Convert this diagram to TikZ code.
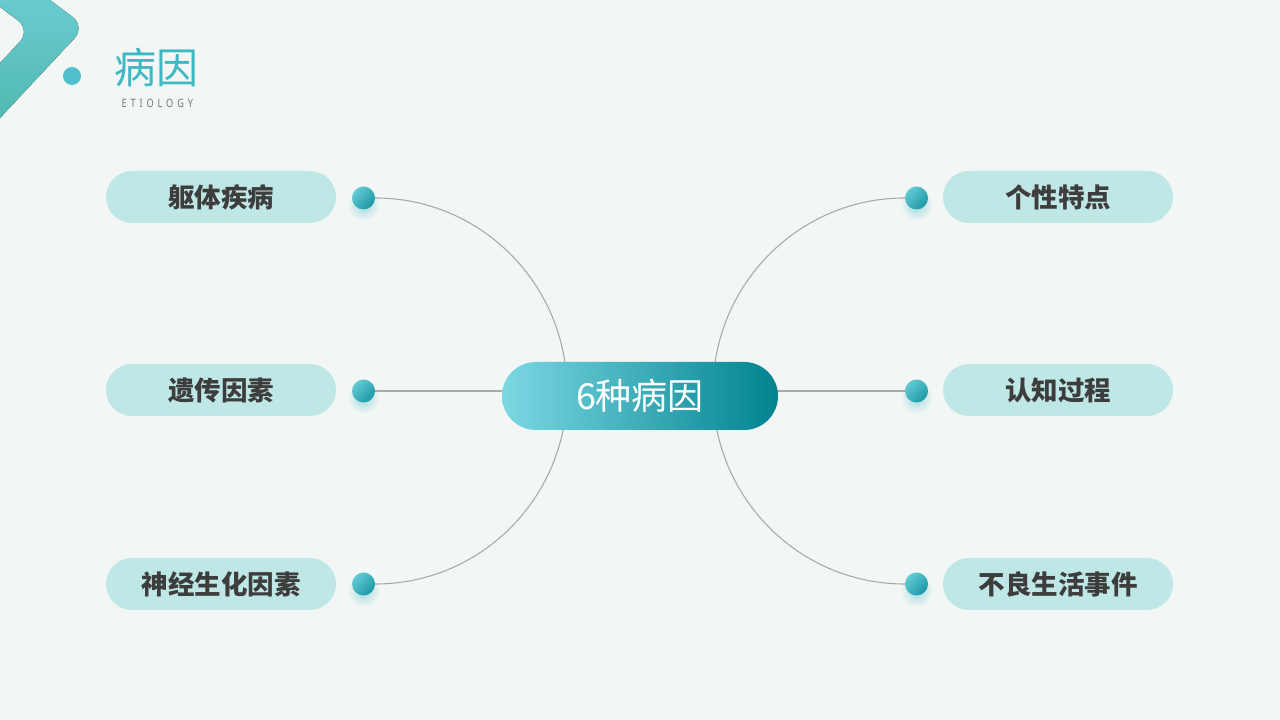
\documentclass[tikz,border=0pt]{standalone}
\usepackage{fontspec}
\setmainfont{Noto Sans}
\newfontfamily\cjk{Noto Sans CJK SC}
\newfontfamily\spaced{Noto Sans}[LetterSpace=34, FakeStretch=0.8]
\usetikzlibrary{backgrounds,fadings}

\definecolor{bgc}{HTML}{F2F6F5}
\definecolor{pillc}{HTML}{BFE7E6}
\definecolor{txtc}{HTML}{3D3D3D}
\definecolor{linec}{HTML}{A8ABAA}
\definecolor{balllight}{HTML}{62CBD3}
\definecolor{balldark}{HTML}{1D98A6}
\definecolor{glowc}{HTML}{7FCFD6}
\definecolor{hubl}{HTML}{7CD8E3}
\definecolor{hubr}{HTML}{00838F}
\definecolor{titlec}{HTML}{3DB8C4}
\definecolor{subc}{HTML}{787878}
\definecolor{logotop}{HTML}{6FCFD7}
\definecolor{logomid}{HTML}{52C2CA}
\definecolor{logobot}{HTML}{4BB5A8}

\tikzfading[name=softglow, inner color=transparent!30, outer color=transparent!100]

\begin{document}
\begin{tikzpicture}[x=1pt, y=1pt,
  pill/.style={fill=pillc, rounded corners=26pt, minimum width=230pt,
    minimum height=52pt, inner sep=0pt, text=txtc,
    font=\cjk\bfseries\fontsize{26.5}{30}\selectfont},
  ball/.style={circle, minimum size=23pt, inner sep=0pt,
    top color=balllight, bottom color=balldark, shading angle=45},
  glow/.style={fill=glowc, path fading=softglow},
  hubnode/.style={rounded corners=34pt, minimum width=276pt,
    minimum height=68pt, left color=hubl, right color=hubr, text=white,
    font=\cjk\fontsize{36}{40}\selectfont},
  link/.style={draw=linec, line width=1.1pt}]
\useasboundingbox (0,0) rectangle (1280,720);
\begin{scope}[on background layer]
\fill[bgc] (0,0) rectangle (1280,720);
\end{scope}

% logo
\begin{scope}
\clip (0,0) rectangle (1280,720);
\fill[top color=logotop, middle color=logomid, bottom color=logobot,
  rounded corners=16pt]
  (10,750) -- (85.4,693.4) -- (-29.9,570) -- (-40,614.2)
  -- (30.8,689.9) -- (-49.3,750) -- cycle;
\end{scope}
\fill[titlec!90] (72,644) circle (9);
\node[font=\cjk\fontsize{42}{46}\selectfont, text=titlec] (title) at (156,652) {病因};
\node[font=\spaced\fontsize{11.5}{13}\selectfont, text=subc, anchor=west] (sub) at (118,617) {ETIOLOGY};

% left side
\node[pill] (pA) at (221,523) {躯体疾病};
\node[pill] (pB) at (221,330) {遗传因素};
\node[pill] (pC) at (221,136) {神经生化因素};
\fill[glow] (363.5,515) circle (16);
\fill[glow] (363.5,322) circle (16);
\fill[glow] (363.5,129) circle (16);
\node[ball] (bA) at (363.5,522) {};
\node[ball] (bB) at (363.5,329) {};
\node[ball] (bC) at (363.5,136) {};

% right side
\node[pill] (pD) at (1058,523) {个性特点};
\node[pill] (pE) at (1058,330) {认知过程};
\node[pill] (pF) at (1058,136) {不良生活事件};
\fill[glow] (916.5,515) circle (16);
\fill[glow] (916.5,322) circle (16);
\fill[glow] (916.5,129) circle (16);
\node[ball] (bD) at (916.5,522) {};
\node[ball] (bE) at (916.5,329) {};
\node[ball] (bF) at (916.5,136) {};

% centre
\node[hubnode] (hub) at (640,324) {6种病因};
\coordinate (hubL) at (567,329);
\coordinate (hubR) at (713,329);

\begin{scope}[on background layer]
\draw[link] (bA.east) to[out=0, in=90] (hubL);
\draw[link] (bB.east) -- (hubL);
\draw[link] (bC.east) to[out=0, in=-90] (hubL);
\draw[link] (bD.west) to[out=180, in=90] (hubR);
\draw[link] (bE.west) -- (hubR);
\draw[link] (bF.west) to[out=180, in=-90] (hubR);
\end{scope}
\end{tikzpicture}
\end{document}
